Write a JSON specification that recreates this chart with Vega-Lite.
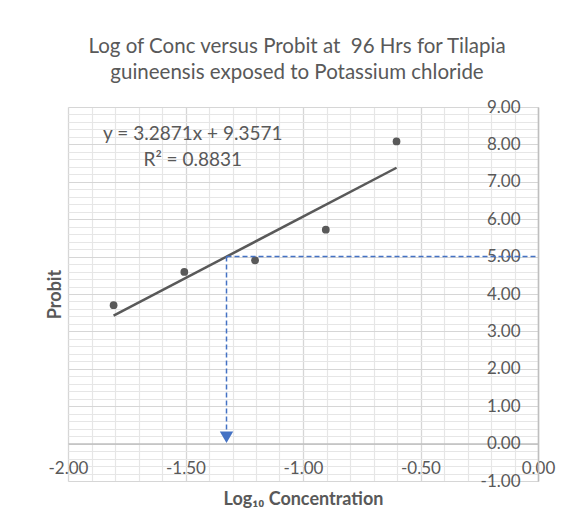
{
  "$schema": "https://vega.github.io/schema/vega-lite/v6.json",
  "width": 470,
  "height": 374,
  "autosize": {"type": "none"},
  "padding": {"left": 68, "top": 107, "right": 36, "bottom": 50},
  "background": "white",
  "title": {
    "text": ["Log of Conc versus Probit at \u00a096 Hrs for Tilapia", "guineensis exposed to Potassium chloride"],
    "font": "Lato",
    "fontSize": 20.5,
    "fontWeight": "normal",
    "color": "#595959",
    "anchor": "middle",
    "lineHeight": 26.7,
    "offset": 14,
    "dx": -6
  },
  "config": {
    "view": {"stroke": null},
    "axis": {
      "labelFont": "Lato",
      "titleFont": "Lato",
      "labelColor": "#595959",
      "titleColor": "#595959",
      "labelFontSize": 17,
      "titleFontSize": 18
    }
  },
  "data": {
    "values": [
      {"log_conc": -1.806, "probit": 3.70},
      {"log_conc": -1.505, "probit": 4.59},
      {"log_conc": -1.204, "probit": 4.90},
      {"log_conc": -0.903, "probit": 5.72},
      {"log_conc": -0.602, "probit": 8.08}
    ]
  },
  "layer": [
    {
      "mark": {"type": "point", "opacity": 0},
      "encoding": {
        "x": {"field": "log_conc", "type": "quantitative", "scale": {"domain": [-2, 0], "nice": false, "zero": false},
          "axis": {"orient": "bottom", "values": [-2,-1.9,-1.8,-1.7,-1.6,-1.5,-1.4,-1.3,-1.2,-1.1,-1,-0.9,-0.8,-0.7,-0.6,-0.5,-0.4,-0.3,-0.2,-0.1,0],
            "grid": true, "gridColor": "#e6e6e6", "gridWidth": 1.2, "domain": false, "ticks": false, "labels": false, "title": null}},
        "y": {"field": "probit", "type": "quantitative", "scale": {"domain": [-1, 9], "nice": false, "zero": false},
          "axis": {"orient": "left", "values": [-1,-0.8,-0.6,-0.4,-0.2,0,0.2,0.4,0.6,0.8,1,1.2,1.4,1.6,1.8,2,2.2,2.4,2.6,2.8,3,3.2,3.4,3.6,3.8,4,4.2,4.4,4.6,4.8,5,5.2,5.4,5.6,5.8,6,6.2,6.4,6.6,6.8,7,7.2,7.4,7.6,7.8,8,8.2,8.4,8.6,8.8,9],
            "grid": true, "gridColor": "#e6e6e6", "gridWidth": 1.2, "domain": false, "ticks": false, "labels": false, "title": null}}
      }
    },
    {
      "mark": {"type": "point", "opacity": 0},
      "encoding": {
        "x": {"field": "log_conc", "type": "quantitative", "scale": {"domain": [-2, 0], "nice": false, "zero": false},
          "axis": {"orient": "bottom", "values": [-2,-1.5,-1,-0.5,0],
            "grid": true, "gridColor": "#d6d6d6", "gridWidth": 1.2, "domain": false, "ticks": false, "labels": false, "title": null}},
        "y": {"field": "probit", "type": "quantitative", "scale": {"domain": [-1, 9], "nice": false, "zero": false},
          "axis": {"orient": "left", "values": [-1,0,1,2,3,4,5,6,7,8,9],
            "grid": true, "gridColor": "#d6d6d6", "gridWidth": 1.2, "domain": false, "ticks": false, "labels": false, "title": null}}
      }
    },
    {
      "mark": {"type": "point", "opacity": 0},
      "encoding": {
        "x": {"field": "log_conc", "type": "quantitative", "scale": {"domain": [-2, 0], "nice": false, "zero": false},
          "axis": {"orient": "bottom", "values": [-2,-1.5,-1,-0.5,0], "offset": -37.4,
            "grid": false, "domain": true, "domainColor": "#bfbfbf", "domainWidth": 1.5,
            "ticks": false, "tickSize": 0, "labelPadding": 25, "labelBaseline": "middle",
            "labelFlush": false, "labelOverlap": false, "labelBound": false,
            "labelExpr": "replace(format(datum.value, '.2f'), '\u2212', '-')",
            "title": "Log\u2081\u2080 Concentration", "titleFontWeight": "bold", "titleY": 56, "titleBaseline": "middle"}},
        "y": {"field": "probit", "type": "quantitative", "scale": {"domain": [-1, 9], "nice": false, "zero": false},
          "axis": {"orient": "right", "values": [-1,0,1,2,3,4,5,6,7,8,9],
            "grid": false, "domain": true, "domainColor": "#bfbfbf", "domainWidth": 1.5,
            "ticks": false, "tickSize": 0, "labelPadding": -18, "labelAlign": "right", "labelBaseline": "middle",
            "labelFlush": false, "labelOverlap": false, "labelBound": false,
            "labelExpr": "replace(format(datum.value, '.2f'), '\u2212', '-')",
            "title": null}}
      }
    },
    {
      "mark": {"type": "point", "opacity": 0},
      "encoding": {
        "x": {"field": "log_conc", "type": "quantitative", "scale": {"domain": [-2, 0], "nice": false, "zero": false}, "axis": null},
        "y": {"field": "probit", "type": "quantitative", "scale": {"domain": [-1, 9], "nice": false, "zero": false},
          "axis": {"orient": "left", "grid": false, "domain": false, "ticks": false, "labels": false,
            "title": "Probit", "titleFontWeight": "bold", "titleX": -13, "titleBaseline": "middle"}}
      }
    },
    {
      "transform": [{"regression": "probit", "on": "log_conc"}],
      "mark": {"type": "line", "color": "#595959", "strokeWidth": 2.5},
      "encoding": {
        "x": {"field": "log_conc", "type": "quantitative", "scale": {"domain": [-2, 0], "nice": false, "zero": false}, "axis": null},
        "y": {"field": "probit", "type": "quantitative", "scale": {"domain": [-1, 9], "nice": false, "zero": false}, "axis": null}
      }
    },
    {
      "mark": {"type": "circle", "color": "#595959", "opacity": 1, "size": 60},
      "encoding": {
        "x": {"field": "log_conc", "type": "quantitative", "scale": {"domain": [-2, 0], "nice": false, "zero": false}, "axis": null},
        "y": {"field": "probit", "type": "quantitative", "scale": {"domain": [-1, 9], "nice": false, "zero": false}, "axis": null}
      }
    },
    {
      "data": {"values": [{"xa": -1.3255, "xb": 0, "ya": 5}]},
      "mark": {"type": "rule", "color": "#4472C4", "strokeWidth": 1.5, "strokeDash": [5, 3]},
      "encoding": {
        "x": {"field": "xa", "type": "quantitative", "scale": {"domain": [-2, 0], "nice": false, "zero": false}, "axis": null},
        "x2": {"field": "xb"},
        "y": {"field": "ya", "type": "quantitative", "scale": {"domain": [-1, 9], "nice": false, "zero": false}, "axis": null}
      }
    },
    {
      "data": {"values": [{"xa": -1.3255, "ya": 5, "yb": 0.3}]},
      "mark": {"type": "rule", "color": "#4472C4", "strokeWidth": 1.5, "strokeDash": [5, 3]},
      "encoding": {
        "x": {"field": "xa", "type": "quantitative", "scale": {"domain": [-2, 0], "nice": false, "zero": false}, "axis": null},
        "y": {"field": "ya", "type": "quantitative", "scale": {"domain": [-1, 9], "nice": false, "zero": false}, "axis": null},
        "y2": {"field": "yb"}
      }
    },
    {
      "data": {"values": [{"xa": -1.3255, "ya": 0.17}]},
      "mark": {"type": "point", "shape": "triangle-down", "filled": true, "color": "#4472C4", "opacity": 1, "size": 180},
      "encoding": {
        "x": {"field": "xa", "type": "quantitative", "scale": {"domain": [-2, 0], "nice": false, "zero": false}, "axis": null},
        "y": {"field": "ya", "type": "quantitative", "scale": {"domain": [-1, 9], "nice": false, "zero": false}, "axis": null}
      }
    },
    {
      "data": {"values": [
        {"label": "y = 3.2871x + 9.3571", "lx": -1.469, "ly": 8.29},
        {"label": "R\u00b2 = 0.8831", "lx": -1.469, "ly": 7.575}
      ]},
      "mark": {"type": "text", "font": "Lato", "fontSize": 19, "color": "#595959", "align": "center", "baseline": "middle"},
      "encoding": {
        "x": {"field": "lx", "type": "quantitative", "scale": {"domain": [-2, 0], "nice": false, "zero": false}, "axis": null},
        "y": {"field": "ly", "type": "quantitative", "scale": {"domain": [-1, 9], "nice": false, "zero": false}, "axis": null},
        "text": {"field": "label"}
      }
    }
  ],
  "resolve": {"axis": {"x": "independent", "y": "independent"}}
}
